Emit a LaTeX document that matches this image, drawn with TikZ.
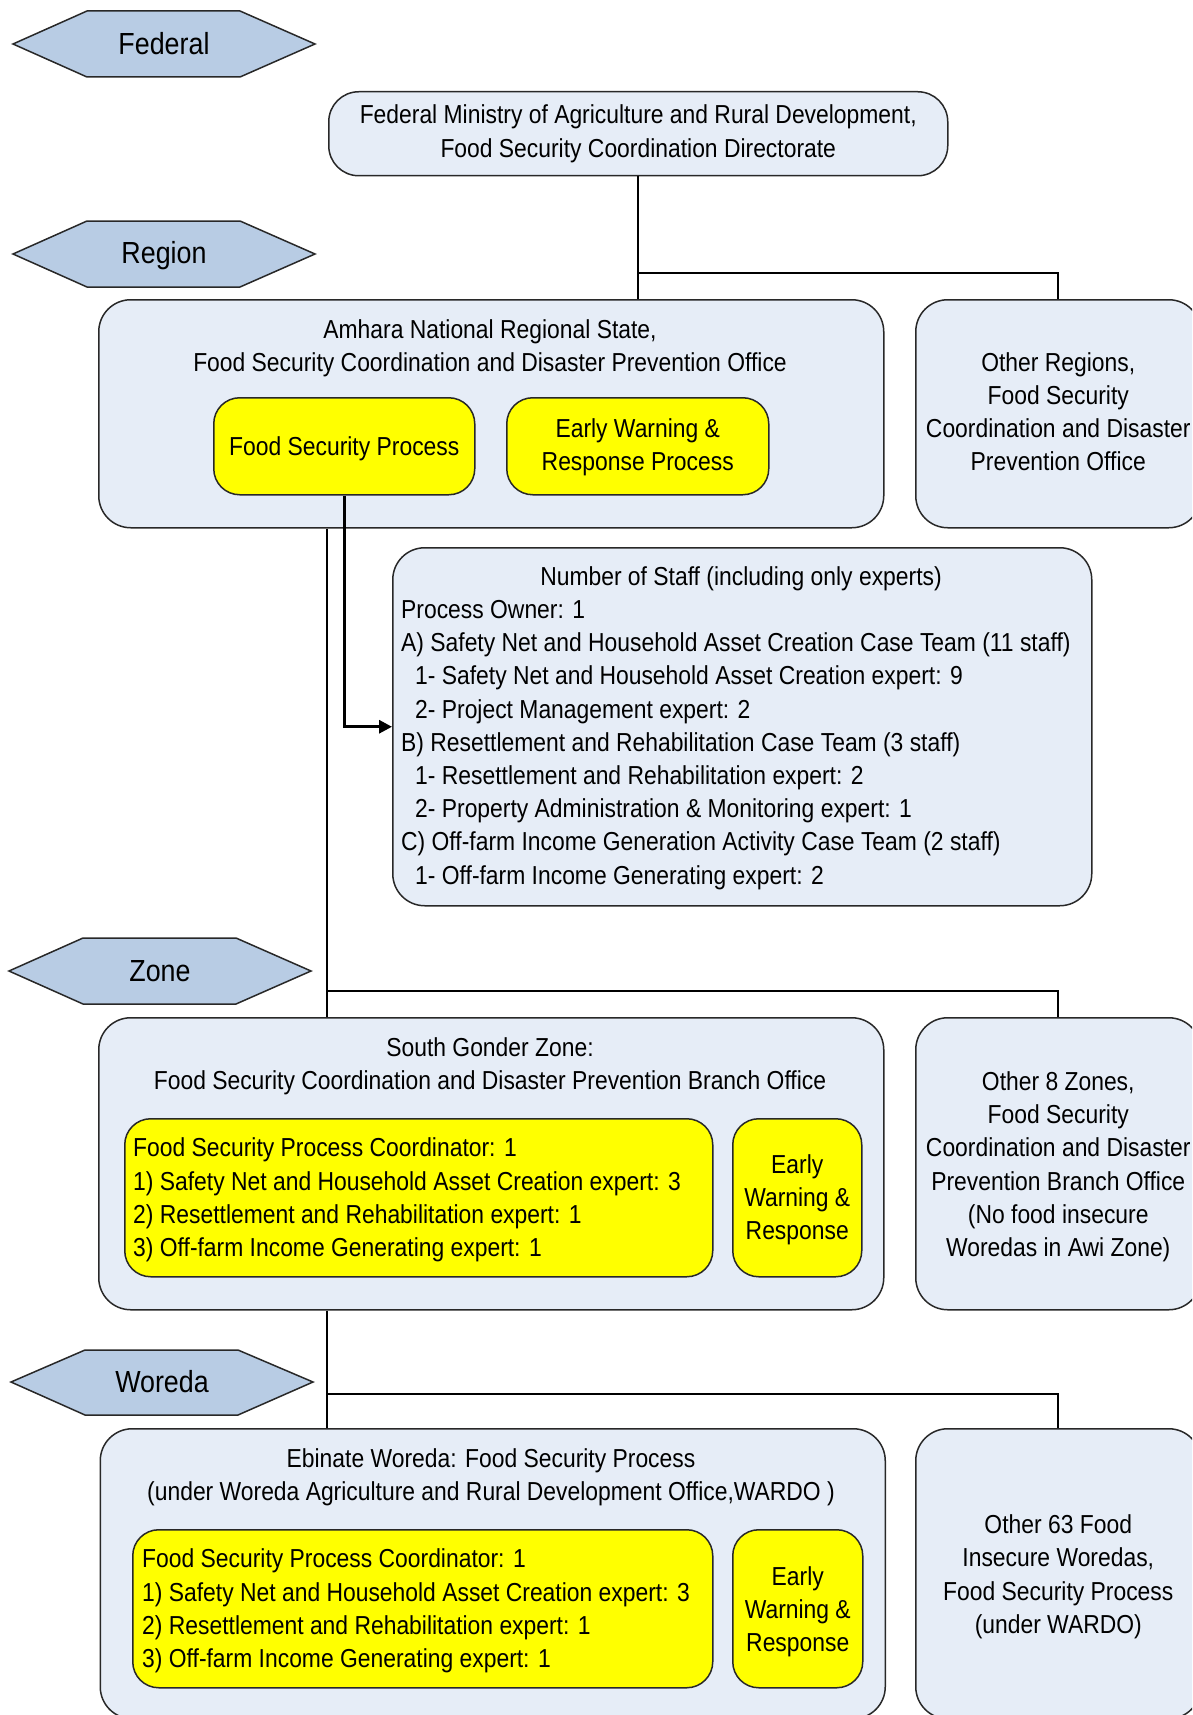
\documentclass[tikz,border=0pt]{standalone}
\usepackage{fontspec}
\setmainfont[FakeStretch=0.88]{Liberation Sans}
\usetikzlibrary{arrows.meta}
\definecolor{boxblue}{RGB}{230,237,247}
\definecolor{hexblue}{RGB}{184,204,228}
\definecolor{linec}{RGB}{40,40,40}
\definecolor{yel}{RGB}{255,255,0}
\newcommand\bxf{\fontsize{26}{33.2}\selectfont}
\newcommand\hxf{\fontsize{30.5}{36}\selectfont}
\begin{document}
\begin{tikzpicture}[x=1pt,y=-1pt,
  bluebox/.style={draw=linec, fill=boxblue, rounded corners=32pt, line width=1.5pt, minimum width=#1, anchor=north west, inner sep=0pt},
  yelbox/.style={draw=linec, fill=yel, rounded corners=26pt, line width=1.5pt, anchor=north west, inner sep=0pt},
  hexa/.style={draw=linec, fill=hexblue, line width=1.5pt},
  hexlabel/.style={font=\hxf, inner sep=0pt},
  txt/.style={font=\bxf, align=center, inner sep=0pt, yshift=-3pt},
  ltxt/.style={font=\bxf, align=left, inner sep=0pt, anchor=west, yshift=-3pt},
  conn/.style={line width=2pt, draw=black},
  arr/.style={line width=3pt, draw=black, -{Triangle[length=13pt,width=13pt]}}]
\useasboundingbox (0,0) rectangle (1192,1715);
\clip (0,0) rectangle (1192,1715);
\fill[white] (0,0) rectangle (1192,1715);

% level hexagons
\draw[hexa] (13,44) -- (87,11) -- (240,11) -- (315,44) -- (240,77) -- (87,77) -- cycle;
\node[hexlabel] (federal) at (164,44) {Federal};
\draw[hexa] (13,254) -- (87,221) -- (240,221) -- (315,254) -- (240,287) -- (87,287) -- cycle;
\node[hexlabel] (region) at (164,256) {Region};
\draw[hexa] (9,971) -- (83,938) -- (236,938) -- (311,971) -- (236,1004) -- (83,1004) -- cycle;
\node[hexlabel] (zone) at (160,971) {Zone};
\draw[hexa] (11,1382) -- (85,1350) -- (238,1350) -- (313,1382) -- (238,1415) -- (85,1415) -- cycle;
\node[hexlabel] (woreda) at (162,1382) {Woreda};

% federal
\node[bluebox=619pt, minimum height=84pt, rounded corners=30pt] (fedmin) at (328,91) {};
\node[txt, yshift=3pt] (fedminT) at (fedmin.center) {Federal Ministry of Agriculture and Rural Development,\\Food Security Coordination Directorate};

% region
\node[bluebox=785pt, minimum height=228pt] (amhara) at (98,299) {};
\node[txt] (amharaT) at (490,345.5) {Amhara National Regional State,\\Food Security Coordination and Disaster Prevention Office};
\node[yelbox, minimum width=261pt, minimum height=97pt] (fsp) at (213,397) {};
\node[txt] (fspT) at (fsp.center) {Food Security Process};
\node[yelbox, minimum width=262pt, minimum height=97pt] (ew1) at (506,397) {};
\node[txt, yshift=2pt] (ew1T) at (ew1.center) {Early Warning \&\\Response Process};
\node[bluebox=285pt, minimum height=228pt] (otherreg) at (915,299) {};
\node[txt, yshift=5pt] (otherregT) at (otherreg.center) {Other Regions,\\Food Security\\Coordination and Disaster\\Prevention Office};

% staff box
\node[bluebox=699pt, minimum height=358pt] (staff) at (392,547) {};
\node[txt] (staffT) at (741,576) {Number of Staff (including only experts)};
\node[ltxt] (staffL) at (401,742) {Process Owner: 1\\
A) Safety Net and Household Asset Creation Case Team (11 staff)\\
\hspace*{14pt}1- Safety Net and Household Asset Creation expert: 9\\
\hspace*{14pt}2- Project Management expert: 2\\
B) Resettlement and Rehabilitation Case Team (3 staff)\\
\hspace*{14pt}1- Resettlement and Rehabilitation expert: 2\\
\hspace*{14pt}2- Property Administration \& Monitoring expert: 1\\
C) Off-farm Income Generation Activity Case Team (2 staff)\\
\hspace*{14pt}1- Off-farm Income Generating expert: 2};

% zone
\node[bluebox=785pt, minimum height=292pt] (sg) at (98,1017) {};
\node[txt] (sgT) at (490,1063) {South Gonder Zone:\\Food Security Coordination and Disaster Prevention Branch Office};
\node[yelbox, minimum width=588pt, minimum height=158pt] (yc1) at (124,1118) {};
\node[ltxt] (yc1T) at (133,1197) {Food Security Process Coordinator: 1\\
1) Safety Net and Household Asset Creation expert: 3\\
2) Resettlement and Rehabilitation expert: 1\\
3) Off-farm Income Generating expert: 1};
\node[yelbox, minimum width=129pt, minimum height=158pt] (ews1) at (732,1118) {};
\node[txt, yshift=1pt] (ews1T) at (ews1.center) {Early\\Warning \&\\Response};
\node[bluebox=285pt, minimum height=292pt] (oth8) at (915,1017) {};
\node[txt] (oth8T) at (oth8.center) {Other 8 Zones,\\Food Security\\Coordination and Disaster\\Prevention Branch Office\\(No food insecure\\Woredas in Awi Zone)};

% woreda
\node[bluebox=785pt, minimum height=290pt] (eb) at (99.5,1428) {};
\node[txt] (ebT) at (491,1474.5) {Ebinate Woreda: Food Security Process\\(under Woreda Agriculture and Rural Development Office,WARDO )};
\node[yelbox, minimum width=580pt, minimum height=158pt] (yc2) at (132,1529) {};
\node[ltxt] (yc2T) at (142,1608) {Food Security Process Coordinator: 1\\
1) Safety Net and Household Asset Creation expert: 3\\
2) Resettlement and Rehabilitation expert: 1\\
3) Off-farm Income Generating expert: 1};
\node[yelbox, minimum width=130pt, minimum height=158pt] (ews2) at (732,1529) {};
\node[txt] (ews2T) at (ews2.center) {Early\\Warning \&\\Response};
\node[bluebox=285pt, minimum height=290pt] (oth63) at (915,1428) {};
\node[txt] (oth63T) at (oth63.center) {Other 63 Food\\Insecure Woredas,\\Food Security Process\\(under WARDO)};

% connectors
\coordinate (b1) at (637.5,273);
\draw[conn] (fedmin.south) -- (fedmin.south |- amhara.north);
\draw[conn] (b1) -| (otherreg.north);
\draw[arr] (fsp.south) |- (staff.west);
\coordinate (zx) at (327,991);
\coordinate (wx) at (327,1394);
\draw[conn] (zx |- amhara.south) -- (zx |- sg.north);
\draw[conn] (zx) -| (oth8.north);
\draw[conn] (wx |- sg.south) -- (wx |- eb.north);
\draw[conn] (wx) -| (oth63.north);
\end{tikzpicture}
\end{document}
